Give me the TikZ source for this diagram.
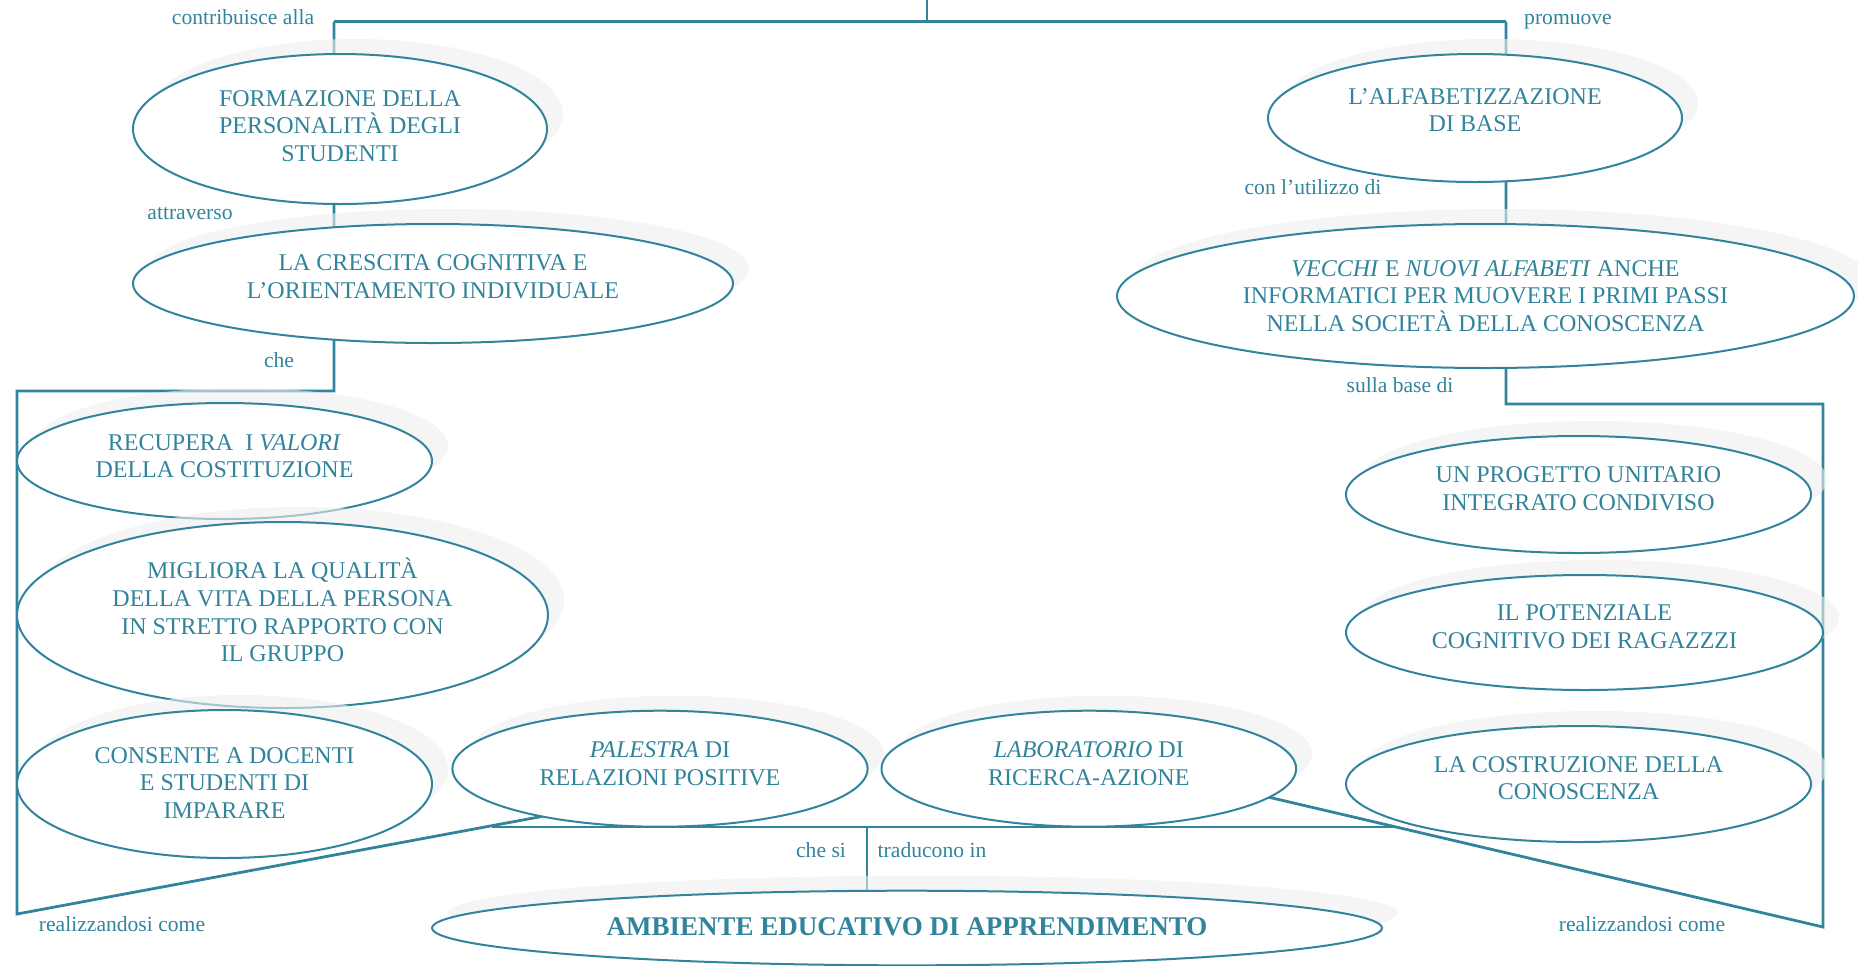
\documentclass[tikz,border=0pt]{standalone}
\usepackage{fontspec}
\setmainfont{Liberation Serif}
\usetikzlibrary{shapes.geometric,shadows}
\pgfdeclarelayer{bg}
\pgfsetlayers{bg,main}
\definecolor{mapteal}{RGB}{49,132,155}
\definecolor{shadegray}{RGB}{238,238,238}
\begin{document}
\begin{tikzpicture}[x=0.5pt,y=-0.5pt,
  bubble/.style 2 args={ellipse, draw=mapteal, line width=1pt, fill=white,
    inner sep=0pt, outer sep=0pt, minimum width=#1pt, minimum height=#2pt,
    text=mapteal, align=center, font=\fontsize{12}{13.8}\selectfont,
    general shadow={fill=shadegray, fill opacity=0.6, shadow xshift=8pt, shadow yshift=7.5pt}},
  lift/.style={text depth=#1},
  conn/.style={draw=mapteal, line width=1.4pt},
  lbl/.style={text=mapteal, font=\fontsize{10.8}{12}\selectfont, inner sep=0pt, anchor=base}]
\useasboundingbox (0,0) rectangle (1858,965);

% left branch
\node[bubble={207}{75}, lift=3pt] (form) at (340,129)
  {FORMAZIONE DELLA\\PERSONALITÀ DEGLI\\STUDENTI};
\node[bubble={300}{59.5}, lift=7pt] (cresc) at (433,283.5)
  {LA CRESCITA COGNITIVA E\\L’ORIENTAMENTO INDIVIDUALE};
\node[bubble={207.5}{58}, lift=5pt] (recup) at (224.5,461)
  {RECUPERA\ \ I \textit{VALORI}\\DELLA COSTITUZIONE};
\node[bubble={265.5}{93}, lift=5pt] (migl) at (282.5,615)
  {MIGLIORA LA QUALITÀ\\DELLA VITA DELLA PERSONA\\IN STRETTO RAPPORTO CON\\IL GRUPPO};
\node[bubble={207.5}{74}, lift=1pt] (cons) at (224.5,784)
  {CONSENTE A DOCENTI\\E STUDENTI DI\\IMPARARE};

% right branch
\node[bubble={207}{64}, lift=8pt] (alfa) at (1475,118)
  {L’ALFABETIZZAZIONE\\DI BASE};
\node[bubble={368.5}{72}] (vecchi) at (1485.5,296)
  {\textit{VECCHI} E \textit{NUOVI ALFABETI} ANCHE\\INFORMATICI PER MUOVERE I PRIMI PASSI\\NELLA SOCIETÀ DELLA CONOSCENZA};
\node[bubble={232.5}{58.5}, lift=6pt] (prog) at (1578.5,494.5)
  {UN PROGETTO UNITARIO\\INTEGRATO CONDIVISO};
\node[bubble={238.5}{57.5}, lift=6pt] (pot) at (1584.5,632.5)
  {IL POTENZIALE\\COGNITIVO DEI RAGAZZZI};
\node[bubble={232.5}{58}, lift=6pt] (costr) at (1578.5,784)
  {LA COSTRUZIONE DELLA\\CONOSCENZA};

% bottom
\node[bubble={207.6}{58}, lift=5pt] (pal) at (660,768.7)
  {\textit{PALESTRA} DI\\RELAZIONI POSITIVE};
\node[bubble={207.3}{58}, lift=5pt] (lab) at (1088.8,768.7)
  {\textit{LABORATORIO} DI\\RICERCA-AZIONE};
\node[bubble={475}{37.3}, lift=1pt, font=\fontsize{13.5}{15}\bfseries] (amb) at (907,928)
  {AMBIENTE EDUCATIVO DI APPRENDIMENTO};

% connector labels (placed on their baselines)
\node[lbl] (lcontr) at (243,24) {contribuisce alla};
\node[lbl] (lprom) at (1568,24) {promuove};
\node[lbl] (lattr) at (190,219) {attraverso};
\node[lbl] (lutil) at (1313,194) {con l’utilizzo di};
\node[lbl] (lche) at (279,367) {che};
\node[lbl] (lbase) at (1400,392) {sulla base di};
\node[lbl] (lchesi) at (821,857) {che si};
\node[lbl] (ltrad) at (932,857) {traducono in};
\node[lbl] (lreall) at (122,931) {realizzandosi come};
\node[lbl] (lrealr) at (1642,931) {realizzandosi come};

% junction points
\coordinate (root) at (927,-10);
\coordinate (tbar) at (927,21.7);
\coordinate (tl) at (334,21.7);
\coordinate (tr) at (1506,21.7);
\coordinate (bl) at (334,391);
\coordinate (blc) at (17,391);
\coordinate (bld) at (17,914);
\coordinate (br) at (1506,404);
\coordinate (brc) at (1823,404);
\coordinate (brd) at (1823,927);
\coordinate (jl) at (492,827);
\coordinate (jr) at (1398,827);
\coordinate (jm) at (867,827);

\begin{pgfonlayer}{bg}
  \draw[conn] (root) -- (tbar);
  \draw[conn] (tl) -- (tr);
  \draw[conn] (tl) -- (bl) -- (blc) -- (bld) -- (pal.202);
  \draw[conn] (tr) -- (br) -- (brc) -- (brd) -- (lab.351);
  \draw[conn] (jl) -- (jr);
  \draw[conn] (jm) -- (jm |- amb.center);
\end{pgfonlayer}
\end{tikzpicture}
\end{document}
